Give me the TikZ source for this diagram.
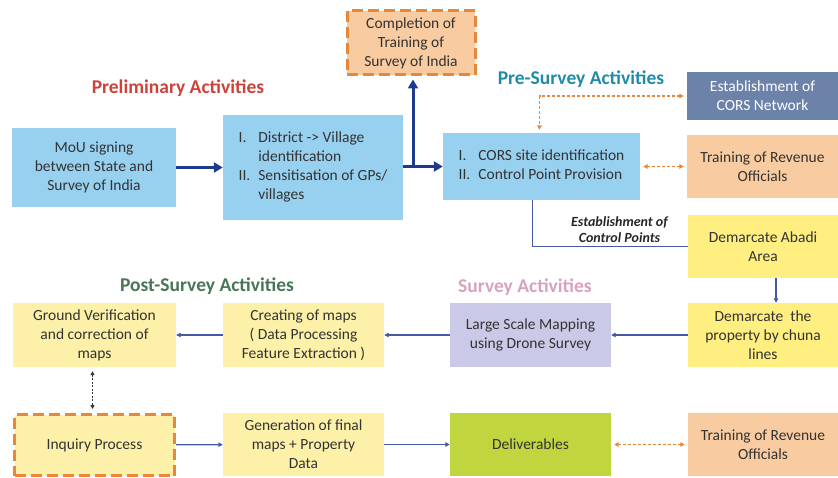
\documentclass[tikz,border=0pt]{standalone}
\usepackage{fontspec}
\setmainfont{Carlito}
\usetikzlibrary{arrows.meta, positioning, calc}

\definecolor{skyfill}{RGB}{152,208,240}
\definecolor{peachfill}{RGB}{249,203,160}
\definecolor{slatefill}{RGB}{108,130,168}
\definecolor{lemonfill}{RGB}{255,238,128}
\definecolor{creamfill}{RGB}{253,240,168}
\definecolor{lilacfill}{RGB}{202,202,232}
\definecolor{olivefill}{RGB}{192,213,62}
\definecolor{navyline}{RGB}{30,58,140}
\definecolor{steelline}{RGB}{70,90,160}
\definecolor{orangeline}{RGB}{232,134,58}
\definecolor{prelimred}{RGB}{205,66,56}
\definecolor{preteal}{RGB}{30,140,168}
\definecolor{surveypink}{RGB}{214,162,192}
\definecolor{postgreen}{RGB}{72,118,84}

\begin{document}
\begin{tikzpicture}[x=1pt, y=-1pt,
    box/.style={align=center, text=black!80, inner sep=0pt,
      font=\fontsize{15.5}{19}\selectfont,
      minimum width=161pt, minimum height=64pt},
    dashbox/.style={box, draw=orangeline, line width=3pt, dash pattern=on 11pt off 5pt},
    heading/.style={font=\fontsize{19.5}{22}\selectfont\bfseries},
    bigarrow/.style={draw=navyline, line width=3pt, -{Triangle[length=9pt, width=10pt]}},
    thinarrow/.style={draw=steelline, line width=1.2pt, -{Triangle[length=4.5pt, width=4.5pt]}},
    linkdash/.style={draw=orangeline, line width=1.4pt, dash pattern=on 3pt off 2pt,
      {Triangle[length=4.5pt, width=4.5pt]}-{Triangle[length=4.5pt, width=4.5pt]}, shorten <=3pt, shorten >=3pt}]

  \useasboundingbox (0,0) rectangle (838,478);

  % headings
  \node[heading, text=prelimred] (prelim) at (178,88) {Preliminary Activities};
  \node[heading, text=preteal] (presurvey) at (581,79) {Pre-Survey Activities};
  \node[heading, text=surveypink] (survey) at (525,287) {Survey Activities};
  \node[heading, text=postgreen] (postsurvey) at (207,286) {Post-Survey Activities};

  % top row
  \node[box, fill=skyfill, minimum width=164pt, minimum height=79pt] (mou) at (94,167.5)
    {MoU signing\\between State and\\Survey of India};
  \node[box, fill=skyfill, minimum width=180pt, minimum height=105pt] (district) at (313,167.5)
    {\begin{tabular}{@{}l@{\hspace{8pt}}l@{}}
      I. & District -> Village\\
         & identification\\
      II. & Sensitisation of GPs/\\
         & villages
    \end{tabular}};
  \node[dashbox, fill=peachfill, minimum width=128pt, minimum height=64pt] (completion) at (411,43)
    {Completion of\\Training of\\Survey of India};
  \node[box, fill=skyfill, minimum width=197pt, minimum height=67pt] (cors) at (541.5,166.5)
    {\begin{tabular}{@{}l@{\hspace{8pt}}l@{}}
      I. & CORS site identification\\
      II. & Control Point Provision
    \end{tabular}};
  \node[box, fill=slatefill, text=white, minimum width=151pt, minimum height=48pt] (corsnet) at (762.5,96)
    {Establishment of\\CORS Network};
  \node[box, fill=peachfill, minimum width=151pt, minimum height=63pt] (trainA) at (762.5,166.5)
    {Training of Revenue\\Officials};
  \node[box, fill=lemonfill, minimum width=150pt, minimum height=63pt] (abadi) at (763,246.5)
    {Demarcate Abadi\\Area};

  % middle row
  \node[box, fill=lemonfill, minimum width=150pt] (property) at (763,335)
    {Demarcate\ \ the\\property by chuna\\lines};
  \node[box, fill=lilacfill] (drone) at (530.5,335)
    {Large Scale Mapping\\using Drone Survey};
  \node[box, fill=creamfill] (creating) at (303.5,335)
    {Creating of maps\\( Data Processing\\Feature Extraction )};
  \node[box, fill=creamfill, minimum width=163pt] (ground) at (94.5,335)
    {Ground Verification\\and correction of\\maps};

  % bottom row
  \node[dashbox, fill=creamfill, minimum width=160pt, minimum height=61pt] (inquiry) at (94.5,445)
    {Inquiry Process};
  \node[box, fill=creamfill, minimum height=63pt] (generation) at (303.5,444.5)
    {Generation of final\\maps + Property\\Data};
  \node[box, fill=olivefill, minimum height=63pt] (deliverables) at (530.5,444.5)
    {Deliverables};
  \node[box, fill=peachfill, minimum width=150pt, minimum height=63pt] (trainB) at (763,444.5)
    {Training of Revenue\\Officials};

  % connectors
  \draw[bigarrow] (mou) -- (district);
  \draw[bigarrow] (district.east |- cors.west) -- (cors.west);
  \draw[bigarrow, shorten >=3pt] ([xshift=2pt]completion.south |- cors.west) -- ([xshift=2pt]completion.south);

  \draw[linkdash] (corsnet.west) -| ([xshift=-2pt]cors.north);
  \draw[linkdash] (cors.east) -- (trainA.west);
  \draw[draw=steelline, line width=1.2pt] ([xshift=-9pt]cors.south) |- (abadi.west)
    node[pos=0.78, above, align=center, text=black!85,
      font=\fontsize{14}{15.5}\selectfont\bfseries\itshape] (cplabel) {Establishment of\\Control Points};

  \draw[thinarrow] ([xshift=13pt]abadi.south) -- ([xshift=13pt]property.north);
  \draw[thinarrow] (property) -- (drone);
  \draw[thinarrow] (drone) -- (creating);
  \draw[thinarrow] (creating) -- (ground);
  \draw[draw=black!80, line width=1.2pt, dash pattern=on 2pt off 1.5pt,
    {Triangle[length=4pt, width=4pt]}-{Triangle[length=4pt, width=4pt]},
    shorten <=4pt, shorten >=4pt] ([xshift=-2pt]ground.south) -- ([xshift=-2pt]inquiry.north);

  \draw[thinarrow] (inquiry) -- (generation);
  \draw[thinarrow] (generation) -- (deliverables);
  \draw[linkdash] (deliverables) -- (trainB);
\end{tikzpicture}
\end{document}
